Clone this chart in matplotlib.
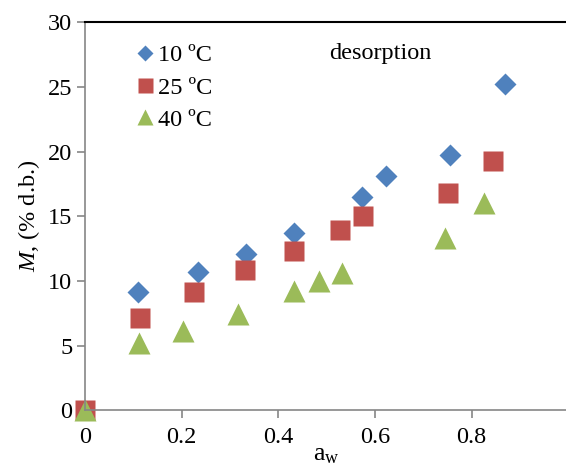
import numpy as np
import matplotlib.pyplot as plt

# desorption isotherm data
aw_10 = [0.11, 0.233, 0.333, 0.432, 0.573, 0.622, 0.756, 0.869]
M_10 = [9.1, 10.7, 12.1, 13.7, 16.5, 18.1, 19.7, 25.2]

aw_25 = [0.0, 0.113, 0.226, 0.331, 0.432, 0.527, 0.576, 0.752, 0.845]
M_25 = [0.0, 7.1, 9.1, 10.8, 12.3, 13.9, 15.0, 16.8, 19.3]

aw_40 = [0.0, 0.112, 0.203, 0.316, 0.432, 0.484, 0.532, 0.745, 0.826]
M_40 = [0.0, 5.2, 6.1, 7.4, 9.2, 10.0, 10.6, 13.3, 16.0]

labels = ['10 ºC', '25 ºC', '40 ºC']
xticks = [0, 0.2, 0.4, 0.6, 0.8]
yticks = [0, 5, 10, 15, 20, 25, 30]

plt.rcParams['font.family'] = ['Liberation Serif', 'DejaVu Serif']
plt.rcParams['mathtext.fontset'] = 'custom'
plt.rcParams['mathtext.rm'] = 'Liberation Serif'
plt.rcParams['mathtext.it'] = 'Liberation Serif:italic'

fs = 17.5

fig = plt.figure(figsize=(5.66, 4.72), dpi=100)
ax = fig.add_axes([0.150, 0.131, 0.854, 0.822])

ax.plot(aw_10, M_10, 'D', color='#4F81BD', ms=11.5, mec='none', label=labels[0])
ax.plot(aw_25, M_25, 's', color='#C0504D', ms=15, mec='none', label=labels[1])
ax.plot(aw_40, M_40, '^', color='#9BBB59', ms=16, mec='none', label=labels[2])

ax.set_xlim(0, 1.0)
ax.set_ylim(0, 30)
ax.set_xticks(xticks)
ax.set_xticklabels(['0', '0.2', '0.4', '0.6', '0.8'])
ax.set_yticks(yticks)

for s in ['left', 'bottom']:
    ax.spines[s].set_color('#868686')
    ax.spines[s].set_linewidth(1.2)
ax.spines['top'].set_color('black')
ax.spines['top'].set_linewidth(1.5)
ax.spines['right'].set_visible(False)
for sp in ax.spines.values():
    sp.set_clip_on(False)

ax.tick_params(axis='both', direction='out', color='#868686', length=6, width=1.2,
               labelsize=fs, pad=3)
ax.tick_params(axis='x', pad=6)

ax.set_xlabel('a$_{\\mathrm{w}}$', fontsize=fs + 1, labelpad=-3)
ax.set_ylabel('$\\mathit{M}$, (% d.b.)', fontsize=fs, labelpad=4)

ax.text(0.505, 27.6, 'desorption', fontsize=fs, ha='left', va='center')

ax.legend(loc='upper left', bbox_to_anchor=(0.08, 0.968), frameon=False, fontsize=fs,
          handletextpad=0.0, handlelength=1.0, labelspacing=0.42, borderaxespad=0,
          markerscale=0.72)

for m in ax.lines:
    m.set_clip_on(False)

fig.savefig('out.png', dpi=100)
